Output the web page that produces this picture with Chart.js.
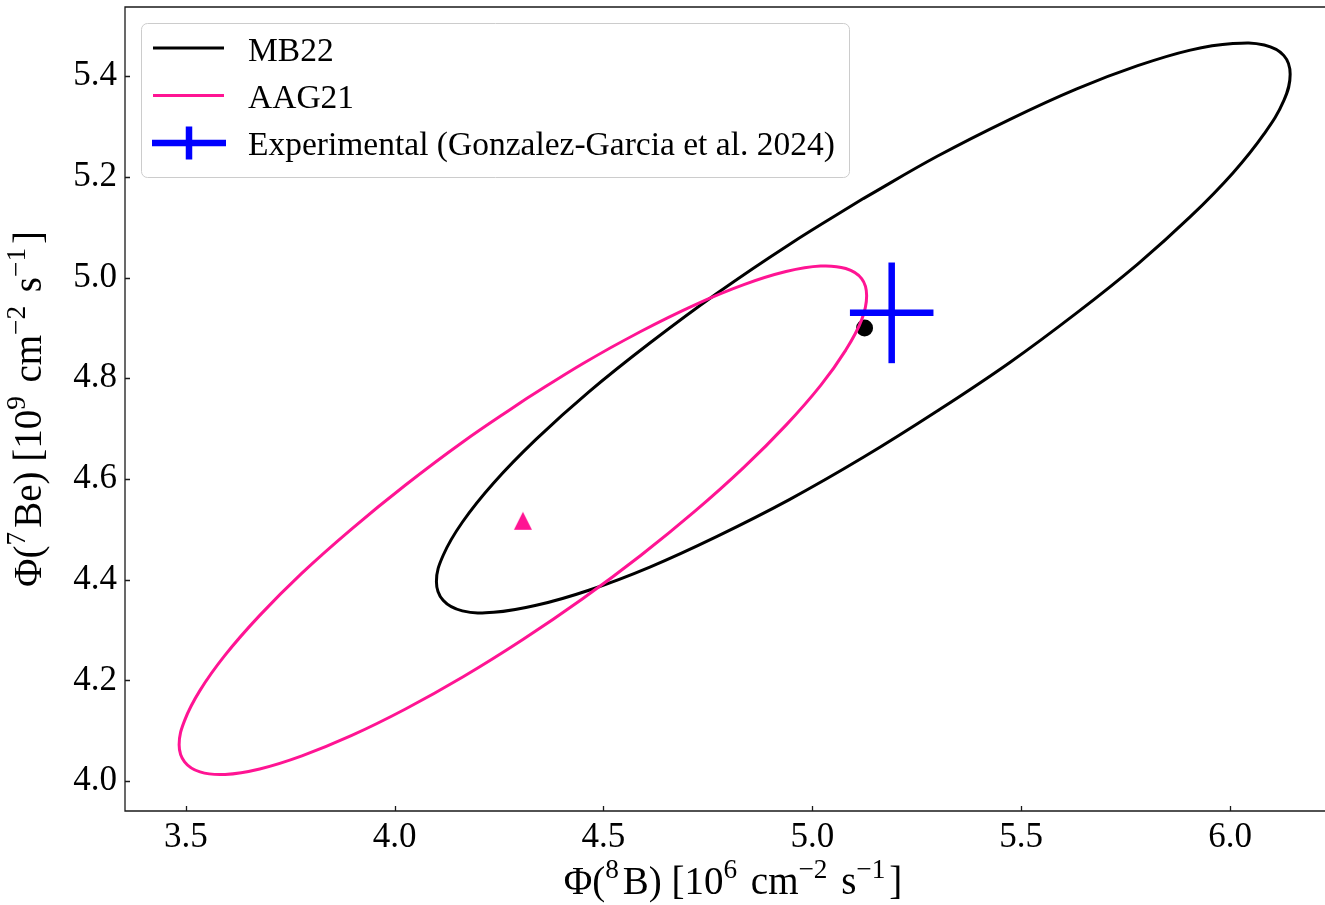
<!DOCTYPE html>
<html>
<head>
<meta charset="utf-8">
<script src="https://cdn.jsdelivr.net/npm/chart.js@4.4.1/dist/chart.umd.min.js"></script>
<style>
  html, body { margin: 0; padding: 0; background: #ffffff; }
  canvas { display: block; }
</style>
</head>
<body>
<canvas id="fluxChart" width="1325" height="905"></canvas>
<script>
// Axis ticks
const xTicks = [3.5, 4.0, 4.5, 5.0, 5.5, 6.0];
const yTicks = [4.0, 4.2, 4.4, 4.6, 4.8, 5.0, 5.2, 5.4];

// MB22 1-sigma contour, Phi(8B) and Phi(7Be) (closed curve)
const mb22X = [5.122, 4.945, 4.772, 4.611, 4.465, 4.339, 4.237, 4.162, 4.116, 4.100,
               4.116, 4.162, 4.237, 4.339, 4.465, 4.611, 4.772, 4.945, 5.122, 5.299,
               5.472, 5.633, 5.779, 5.905, 6.007, 6.082, 6.129, 6.144, 6.129, 6.082,
               6.007, 5.905, 5.779, 5.633, 5.472, 5.299, 5.122];
const mb22Y = [5.157, 5.066, 4.969, 4.870, 4.773, 4.679, 4.592, 4.514, 4.448, 4.396,
               4.359, 4.338, 4.335, 4.349, 4.379, 4.425, 4.486, 4.559, 4.643, 4.735,
               4.831, 4.930, 5.027, 5.121, 5.208, 5.286, 5.352, 5.404, 5.441, 5.462,
               5.465, 5.452, 5.421, 5.375, 5.314, 5.241, 5.157];

// AAG21 1-sigma contour (closed curve)
const aag21X = [4.307, 4.164, 4.026, 3.896, 3.778, 3.677, 3.594, 3.534, 3.497, 3.484,
                3.497, 3.534, 3.594, 3.677, 3.778, 3.896, 4.026, 4.164, 4.307, 4.450,
                4.589, 4.719, 4.836, 4.937, 5.020, 5.080, 5.118, 5.130, 5.118, 5.080,
                5.020, 4.937, 4.836, 4.719, 4.589, 4.450, 4.307];
const aag21Y = [4.755, 4.674, 4.588, 4.500, 4.413, 4.329, 4.250, 4.180, 4.120, 4.072,
                4.038, 4.018, 4.013, 4.024, 4.050, 4.090, 4.143, 4.207, 4.281, 4.362,
                4.448, 4.536, 4.623, 4.707, 4.786, 4.856, 4.916, 4.964, 4.998, 5.018,
                5.023, 5.012, 4.986, 4.946, 4.893, 4.829, 4.755];

// Model central values [Phi(8B), Phi(7Be)]
const mb22Center = [5.125, 4.900];
const aag21Center = [4.307, 4.517];

// Measured fluxes and their uncertainties [Phi(8B), Phi(7Be)]
const expCenter = [5.19, 4.93];
const expError = [0.10, 0.10];

const seriesNames = ['MB22', 'AAG21', 'Experimental (Gonzalez-Garcia et al. 2024)'];

const SERIF = "'Liberation Serif', 'DejaVu Serif', serif";
const PINK = '#ff1493';
const BLUE = '#0000ff';

// The axes box continues a little past the right edge of the canvas
const FRAME_OVERHANG = 17;

const toPoints = (xs, ys) => xs.map((x, i) => ({ x: x, y: ys[i] }));

// Upward-pointing triangle marker (equal base and height)
const triMarker = document.createElement('canvas');
triMarker.width = 20; triMarker.height = 20;
(function () {
  const g = triMarker.getContext('2d');
  g.fillStyle = PINK;
  g.beginPath();
  g.moveTo(10, 1); g.lineTo(19, 19); g.lineTo(1, 19); g.closePath();
  g.fill();
})();

// Text with raised, smaller superscript pieces
function drawRich(ctx, parts, cx, baseline, size) {
  const gap = size * 0.1;
  const fontFor = p => (p.sup ? size * 0.7 : size) + 'px ' + SERIF;
  let total = 0;
  parts.forEach(p => {
    ctx.font = fontFor(p);
    total += ctx.measureText(p.t).width + (p.sup ? gap : 0);
  });
  let x = cx - total / 2;
  ctx.textAlign = 'left';
  ctx.textBaseline = 'alphabetic';
  parts.forEach(p => {
    ctx.font = fontFor(p);
    ctx.fillText(p.t, x, p.sup ? baseline - size * 0.4 : baseline);
    x += ctx.measureText(p.t).width + (p.sup ? gap : 0);
  });
}

const xTitle = [
  { t: 'Φ(' }, { t: '8', sup: true }, { t: 'B) [10' }, { t: '6', sup: true },
  { t: ' cm' }, { t: '−2', sup: true }, { t: ' s' }, { t: '−1', sup: true }, { t: ']' }
];
const yTitle = [
  { t: 'Φ(' }, { t: '7', sup: true }, { t: 'Be) [10' }, { t: '9', sup: true },
  { t: ' cm' }, { t: '−2', sup: true }, { t: ' s' }, { t: '−1', sup: true }, { t: ']' }
];

// Axes frame, inward tick marks and axis titles
const framePlugin = {
  id: 'frame',
  afterDraw(chart) {
    const ctx = chart.ctx;
    const a = chart.chartArea;
    const xs = chart.scales.x, ys = chart.scales.y;
    const frameRight = a.right + FRAME_OVERHANG;
    ctx.save();
    ctx.strokeStyle = '#1a1a1a';
    ctx.lineWidth = 1.3;
    ctx.beginPath();
    ctx.moveTo(frameRight, a.top); ctx.lineTo(a.left, a.top);
    ctx.lineTo(a.left, a.bottom); ctx.lineTo(frameRight, a.bottom);
    ctx.stroke();
    ctx.beginPath();
    xs.ticks.forEach(t => {
      const px = Math.round(xs.getPixelForValue(t.value)) + 0.5;
      ctx.moveTo(px, a.bottom); ctx.lineTo(px, a.bottom - 5);
    });
    ys.ticks.forEach(t => {
      const py = Math.round(ys.getPixelForValue(t.value)) + 0.5;
      ctx.moveTo(a.left, py); ctx.lineTo(a.left + 5, py);
    });
    ctx.stroke();

    ctx.fillStyle = '#000';
    drawRich(ctx, xTitle, (a.left + frameRight) / 2, 894, 39);
    ctx.translate(41, (a.top + a.bottom) / 2);
    ctx.rotate(-Math.PI / 2);
    drawRich(ctx, yTitle, 0, 0, 39);
    ctx.restore();
  }
};

// Framed legend in the upper-left corner
const legendPlugin = {
  id: 'boxLegend',
  afterDraw(chart) {
    const ctx = chart.ctx;
    ctx.save();
    const bx = 141.5, by = 23.5, bw = 708, bh = 154;
    ctx.beginPath();
    ctx.roundRect(bx, by, bw, bh, 6);
    ctx.fillStyle = 'rgba(255,255,255,0.8)';
    ctx.fill();
    ctx.strokeStyle = '#cccccc';
    ctx.lineWidth = 1;
    ctx.stroke();

    const rows = [48, 95.5, 143];
    const baselines = [61, 108, 155];
    // line handles
    ctx.lineCap = 'butt';
    ctx.lineWidth = 3;
    ctx.strokeStyle = '#000';
    ctx.beginPath(); ctx.moveTo(153, rows[0]); ctx.lineTo(224, rows[0]); ctx.stroke();
    ctx.strokeStyle = PINK;
    ctx.beginPath(); ctx.moveTo(153, rows[1]); ctx.lineTo(224, rows[1]); ctx.stroke();
    // error-bar handle
    ctx.strokeStyle = BLUE;
    ctx.lineWidth = 6.5;
    ctx.beginPath(); ctx.moveTo(152, rows[2]); ctx.lineTo(226, rows[2]); ctx.stroke();
    ctx.beginPath(); ctx.moveTo(189, rows[2] - 16.5); ctx.lineTo(189, rows[2] + 16.5); ctx.stroke();

    ctx.fillStyle = '#000';
    ctx.font = '33.5px ' + SERIF;
    ctx.textAlign = 'left';
    ctx.textBaseline = 'alphabetic';
    seriesNames.forEach((name, i) => ctx.fillText(name, 248, baselines[i]));
    ctx.restore();
  }
};

// Keep the plot frame exactly where the layout puts it
const noScalePadding = s => {
  s.paddingTop = 0; s.paddingBottom = 0; s.paddingLeft = 0; s.paddingRight = 0;
};

new Chart(document.getElementById('fluxChart'), {
  type: 'scatter',
  data: {
    datasets: [
      {
        label: seriesNames[0],
        data: toPoints(mb22X, mb22Y),
        showLine: true, tension: 0.4, fill: false,
        borderColor: '#000', borderWidth: 3, pointRadius: 0,
        order: 6
      },
      {
        label: 'MB22 centre',
        data: [{ x: mb22Center[0], y: mb22Center[1] }],
        pointRadius: 8.5, pointBorderWidth: 0, backgroundColor: '#000', borderColor: '#000',
        order: 5
      },
      {
        label: seriesNames[1],
        data: toPoints(aag21X, aag21Y),
        showLine: true, tension: 0.4, fill: false,
        borderColor: PINK, borderWidth: 3, pointRadius: 0,
        order: 4
      },
      {
        label: 'AAG21 centre',
        data: [{ x: aag21Center[0], y: aag21Center[1] }],
        pointStyle: triMarker, pointRadius: 10,
        order: 3
      },
      {
        label: seriesNames[2] + ' x',
        data: [{ x: expCenter[0] - expError[0], y: expCenter[1] },
               { x: expCenter[0] + expError[0], y: expCenter[1] }],
        showLine: true, borderColor: BLUE, borderWidth: 6.5, pointRadius: 0,
        order: 2
      },
      {
        label: seriesNames[2] + ' y',
        data: [{ x: expCenter[0], y: expCenter[1] - expError[1] },
               { x: expCenter[0], y: expCenter[1] + expError[1] }],
        showLine: true, borderColor: BLUE, borderWidth: 6.5, pointRadius: 0,
        order: 1
      }
    ]
  },
  options: {
    responsive: false,
    animation: false,
    devicePixelRatio: 1,
    layout: { autoPadding: false, padding: { left: 0, right: 1, top: 7, bottom: 0 } },
    plugins: { legend: { display: false }, tooltip: { enabled: false } },
    scales: {
      x: {
        type: 'linear',
        min: 3.3544, max: 6.225,
        afterBuildTicks: s => { s.ticks = xTicks.map(v => ({ value: v })); },
        afterFit: s => { s.height = 94; noScalePadding(s); },
        grid: { display: false, drawTicks: false },
        border: { display: false },
        ticks: {
          callback: v => Number(v).toFixed(1),
          font: { family: SERIF, size: 35 }, color: '#000',
          padding: 6, maxRotation: 0, autoSkip: false
        }
      },
      y: {
        type: 'linear',
        min: 3.9404, max: 5.5376,
        afterBuildTicks: s => { s.ticks = yTicks.map(v => ({ value: v })); },
        afterFit: s => { s.width = 125; noScalePadding(s); },
        grid: { display: false, drawTicks: false },
        border: { display: false },
        ticks: {
          callback: v => Number(v).toFixed(1),
          font: { family: SERIF, size: 35 }, color: '#000',
          padding: 8, autoSkip: false
        }
      }
    }
  },
  plugins: [framePlugin, legendPlugin]
});
</script>
</body>
</html>
